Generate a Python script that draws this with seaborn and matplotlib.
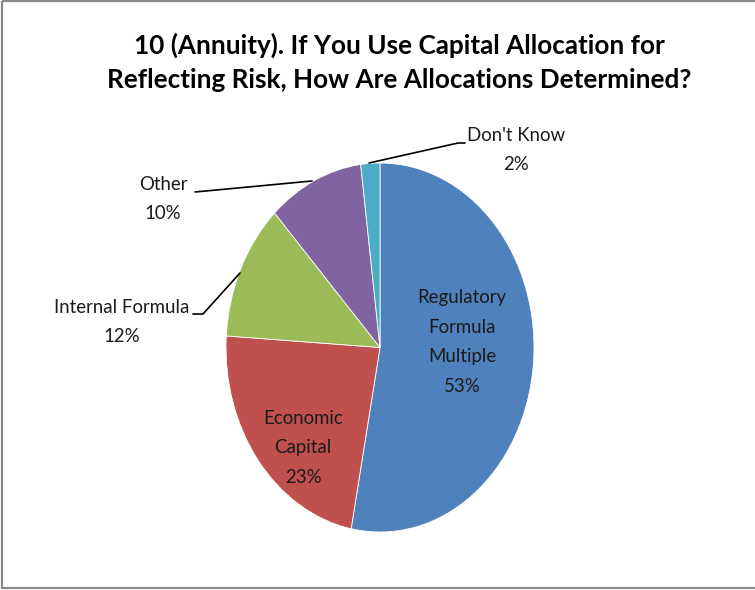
import matplotlib
matplotlib.use("Agg")
import matplotlib.pyplot as plt
import seaborn as sns
from matplotlib.patches import Rectangle
from matplotlib.lines import Line2D

sns.set_theme(style="white")
plt.rcParams["font.family"] = ["Lato", "DejaVu Sans"]

categories = ["Regulatory\nFormula\nMultiple", "Economic\nCapital", "Internal Formula",
              "Other", "Don't Know"]
shares = [53, 23, 12, 10, 2]
colors = ["#4F81BD", "#C0504D", "#9BBB59", "#8064A2", "#4BACC6"]
title_lines = ["10 (Annuity). If You Use Capital Allocation for",
               "Reflecting Risk, How Are Allocations Determined?"]

W, H = 755, 590
fig = plt.figure(figsize=(W / 100, H / 100), dpi=100)

# overlay axes in pixel coordinates for text, leader lines and frame
ov = fig.add_axes([0, 0, 1, 1], zorder=3)
ov.set_xlim(0, W)
ov.set_ylim(H, 0)
ov.axis("off")

# pie axes: stretched vertically so the pie is drawn as an ellipse
cx, cy, rx, ry = 380, 347.5, 154, 184.5
ax = fig.add_axes([(cx - rx) / W, 1 - (cy + ry) / H, 2 * rx / W, 2 * ry / H], zorder=2)
wedges, _ = ax.pie(shares, colors=colors, startangle=90, counterclock=False,
                   wedgeprops=dict(edgecolor="white", linewidth=0.6))
ax.set_aspect("auto")
ax.set_xlim(-1, 1)
ax.set_ylim(-1, 1)
ax.axis("off")

# chart frame
ov.add_patch(Rectangle((2, 1), 770, 587, fill=False, edgecolor="#8a8a8a", linewidth=1.6,
                       clip_on=False))

for line, y in zip(title_lines, [45, 80]):
    ov.text(399, y, line, ha="center", va="center", fontsize=18.8, fontweight="bold",
            color="black")

lab_kw = dict(ha="center", va="center", fontsize=13.4, color="#1a1a1a", linespacing=1.9)
label_pos = [(462, 342), (303, 448), (122, 322), (163, 199), (516, 150)]
for name, val, (x, y) in zip(categories, shares, label_pos):
    ov.text(x, y, f"{name}\n{val}%", **lab_kw)

# leader lines for outside labels
leaders = [
    [(193, 314), (203, 314), (240, 273)],
    [(195, 192), (312, 181)],
    [(465, 143), (458, 143), (369, 163)],
]
for pts in leaders:
    xs, ys = zip(*pts)
    ov.add_line(Line2D(xs, ys, color="black", linewidth=1.2))

fig.savefig("out.png", dpi=100, facecolor="white")
